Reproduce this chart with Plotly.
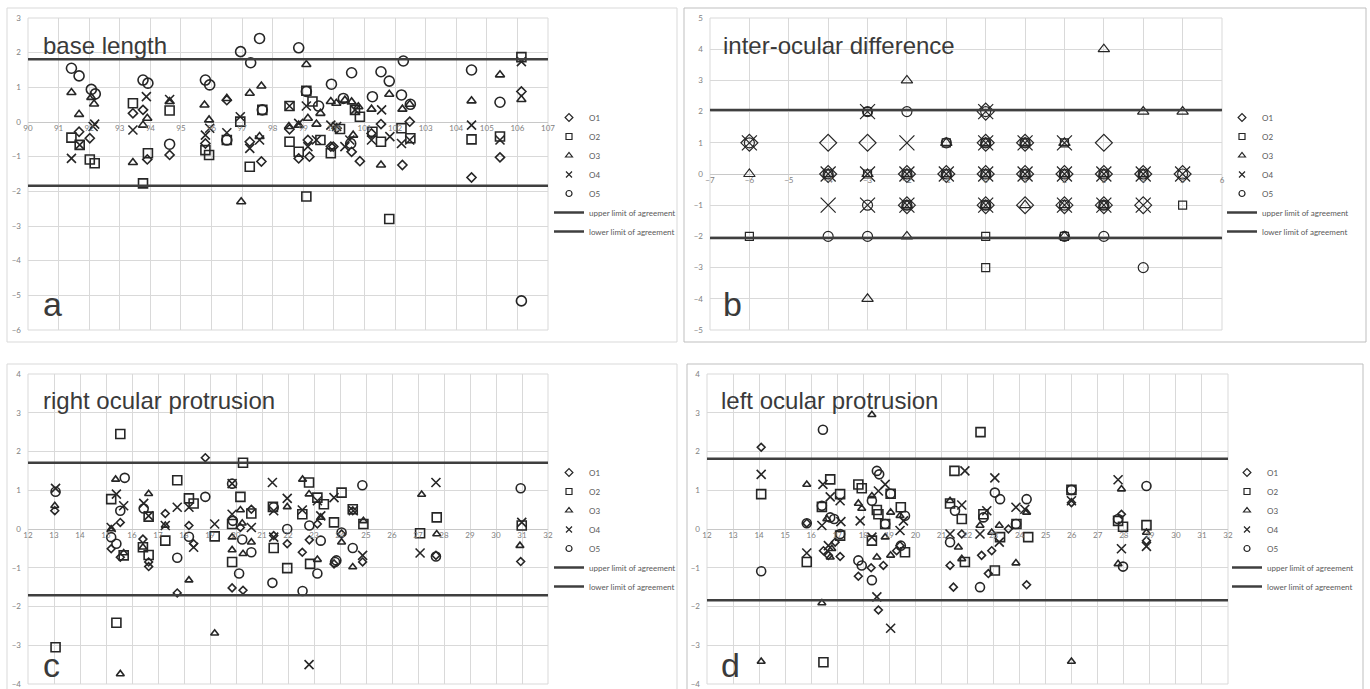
import plotly.graph_objects as go

# ---------------- data ----------------
series_names = ["O1", "O2", "O3", "O4", "O5"]
limit_names = ["upper limit of agreement", "lower limit of agreement"]

# panel a: base length
a_o1_x = [91.67, 92.02, 93.43, 93.76, 93.90, 94.63, 95.80, 96.50, 97.25, 97.63, 98.55, 98.85, 99.15, 99.20, 99.90, 99.98, 100.09, 100.58, 100.85, 101.23, 101.54, 102.24, 102.48, 104.50, 105.43, 106.13]
a_o1_y = [-0.28, -0.47, 0.25, 0.35, -1.08, -0.95, -0.62, 0.63, -0.57, -1.14, -0.21, -1.05, -0.52, -1.00, -0.71, -0.71, -0.18, -0.86, -1.13, -0.33, -0.06, -1.24, 0.01, -1.60, -1.02, 0.88]
a_o2_x = [91.42, 91.69, 92.02, 92.18, 93.43, 93.76, 93.92, 94.63, 95.80, 95.92, 96.50, 96.94, 97.25, 97.66, 98.55, 98.55, 98.85, 99.10, 99.10, 99.30, 99.56, 99.90, 100.20, 100.69, 100.85, 101.26, 101.54, 101.81, 102.21, 102.50, 104.50, 105.43, 106.13]
a_o2_y = [-0.45, -0.66, -1.08, -1.19, 0.54, -1.77, -0.90, 0.33, -0.81, -0.95, -0.52, 0.01, -1.29, 0.35, 0.46, -0.57, -0.86, -2.15, 0.90, 0.59, -0.52, -0.90, -0.20, 0.35, 0.15, -0.28, -0.57, -2.80, -0.18, -0.47, -0.50, -0.42, 1.87]
a_o3_x = [91.42, 91.67, 92.07, 92.16, 93.43, 93.76, 93.90, 94.63, 95.77, 95.92, 96.50, 96.97, 97.25, 97.63, 97.57, 98.53, 98.85, 99.10, 99.15, 99.43, 99.56, 99.90, 100.08, 100.36, 100.58, 100.63, 100.80, 101.23, 101.81, 102.24, 102.48, 101.54, 104.50, 105.43, 106.13]
a_o3_y = [0.85, 0.22, 0.71, 0.52, -1.17, -0.09, 0.11, 0.59, 0.49, 0.06, 0.68, -2.30, 0.83, 1.04, -0.42, -0.13, -0.09, 1.66, 0.11, -0.06, 0.25, 0.59, 0.54, 0.63, 0.58, -0.38, 0.44, 0.37, 0.80, 0.37, 0.51, -1.24, 0.61, 1.36, 0.65]
a_o4_x = [91.42, 91.69, 92.13, 92.18, 93.43, 93.87, 94.63, 95.80, 95.94, 96.50, 96.94, 97.25, 97.57, 98.55, 98.85, 99.10, 99.15, 99.43, 99.90, 100.09, 100.36, 100.52, 100.69, 101.56, 101.23, 101.83, 102.21, 102.48, 104.50, 105.43, 106.13]
a_o4_y = [-1.05, -0.66, -0.13, -0.06, -0.23, 0.73, 0.65, -0.38, -0.18, -0.31, 0.15, -0.76, -0.52, 0.46, -0.04, 0.46, -0.71, -0.52, -0.09, -0.13, -0.71, -0.52, 0.35, 0.35, -0.52, -0.42, -0.62, -0.52, -0.09, -0.52, 1.74]
a_o5_x = [91.42, 91.67, 92.07, 92.20, 93.76, 93.92, 94.63, 95.80, 95.94, 96.95, 97.28, 97.57, 98.85, 99.10, 99.50, 99.92, 100.31, 100.58, 100.55, 101.26, 101.54, 101.81, 102.27, 102.21, 102.50, 104.50, 105.43, 106.13, 96.50, 97.66]
a_o5_y = [1.55, 1.33, 0.94, 0.81, 1.21, 1.12, -0.64, 1.21, 1.07, 2.03, 1.71, 2.41, 2.14, 0.88, 0.46, 1.09, 0.68, 1.42, -0.62, 0.73, 1.45, 1.18, 1.76, 0.78, 0.51, 1.50, 0.57, -5.16, -0.52, 0.35]
a_limits = [1.81, -1.84]

# panel b: inter-ocular difference
b_o1_x = [-6, -4, -4, -3, -2, -2, -1, 0, 0, 0, 0, 1, 1, 1, 2, 2, 3, 3, 3, 4, 4, 5]
b_o1_y = [1, 1, 0, 1, 0, -1, 0, 2, 1, 0, -1, 1, 0, -1, 0, -1, 1, 0, -1, 0, -1, 0]
b_o2_x = [-6, -4, -3, -3, -2, -2, -1, -1, 0, 0, 0, 0, 0, 1, 1, 2, 2, 2, 3, 3, 4, 5]
b_o2_y = [-2, 0, 2, 0, 0, -1, 1, 0, 1, 0, -1, -2, -3, 1, 0, 1, 0, -2, 0, -1, 0, -1]
b_o3_x = [-6, -4, -3, -3, -2, -2, -2, -2, -1, -1, 0, 0, 0, 1, 1, 1, 2, 2, 2, 2, 3, 3, 3, 4, 4, 5]
b_o3_y = [0, 0, 0, -4, 3, 0, -1, -2, 1, 0, 1, 0, -1, 1, 0, -1, 1, 0, -1, -2, 4, 0, -1, 2, 0, 2]
b_o4_x = [-6, -4, -4, -3, -3, -3, -2, -2, -2, -1, 0, 0, 0, 0, 1, 1, 2, 2, 2, 3, 3, 4, 4, 5]
b_o4_y = [1, -1, 0, 2, 0, -1, 1, 0, -1, 0, 2, 1, 0, -1, 1, 0, 1, 0, -1, 0, -1, 0, -1, 0]
b_o5_x = [-6, -4, -4, -3, -3, -3, -2, -2, -2, -1, -1, 0, 0, 0, 0, 1, 1, 2, 2, 2, 3, 3, 3, 4, 4, 5]
b_o5_y = [1, -2, 0, 2, -1, -2, 2, 0, -1, 1, 0, 2, 1, 0, -1, 1, 0, 0, -1, -2, 0, -1, -2, 0, -3, 0]
b_limits = [2.05, -2.05]

# panel c: right ocular protrusion
c_o1_x = [13.03, 15.55, 15.20, 15.55, 16.64, 16.64, 16.42, 17.28, 17.74, 18.19, 18.37, 18.82, 19.85, 20.27, 20.59, 21.45, 21.97, 22.55, 22.82, 23.13, 23.77, 20.17, 24.06, 24.49, 24.87, 27.69, 30.95]
c_o1_y = [0.47, 0.17, -0.51, -0.73, -0.97, -0.85, -0.26, 0.40, -1.65, 0.09, -0.38, 1.84, -1.52, -1.58, 0.51, -0.17, -0.38, -0.60, -0.28, 0.13, -0.90, 0.04, -0.13, 0.47, -0.85, -0.68, -0.84]
c_o2_x = [15.55, 15.40, 13.06, 15.20, 15.68, 16.42, 16.64, 16.64, 17.28, 17.74, 18.19, 18.37, 19.18, 19.85, 19.85, 20.17, 20.27, 20.59, 21.42, 21.45, 21.97, 22.55, 22.81, 22.85, 23.13, 23.38, 23.77, 24.06, 24.49, 24.90, 27.08, 27.72, 30.99]
c_o2_y = [2.45, -2.42, -3.05, 0.77, -0.68, -0.47, 0.32, -0.67, -0.30, 1.26, 0.79, 0.66, -0.19, 0.13, -0.85, 0.83, 1.71, 0.40, 0.57, -0.49, -1.01, 0.38, 1.20, -0.90, 0.81, 0.64, 0.17, 0.94, 0.51, 0.13, -0.11, 0.30, 0.09]
c_o3_x = [13.03, 15.37, 15.20, 15.68, 16.64, 16.42, 17.28, 18.19, 19.18, 15.55, 19.85, 19.85, 20.17, 20.27, 20.59, 21.97, 22.56, 22.81, 23.13, 23.26, 20.24, 24.06, 24.49, 24.90, 27.14, 27.72, 30.92]
c_o3_y = [0.60, 1.28, 0.00, -0.62, 0.91, -0.47, 0.09, -1.32, -2.69, -3.74, -0.21, -0.54, 0.49, -0.64, -0.34, 0.57, 1.28, 0.90, -0.79, 0.30, 0.15, -0.34, -0.98, 0.21, 0.89, -0.13, -0.43]
c_o4_x = [13.06, 15.40, 15.68, 15.20, 16.45, 16.64, 17.28, 17.74, 18.19, 18.37, 19.18, 19.85, 19.85, 20.59, 21.40, 21.45, 21.45, 21.97, 22.55, 22.81, 23.13, 23.26, 23.77, 24.51, 24.87, 27.08, 27.69, 30.99]
c_o4_y = [1.05, 0.90, 0.60, 0.04, 0.66, 0.34, 0.09, 0.56, 0.56, -0.47, 0.13, 1.17, 0.38, 0.04, 1.20, 0.47, -0.21, 0.79, 0.49, -3.50, 0.73, 0.34, 0.81, 0.47, -0.68, -0.62, 1.20, 0.17]
c_o5_x = [13.06, 15.72, 15.55, 15.20, 15.40, 16.45, 17.74, 18.19, 18.82, 19.85, 20.12, 20.24, 20.59, 21.40, 21.45, 21.97, 22.56, 22.82, 23.13, 23.26, 23.86, 19.88, 24.06, 24.49, 23.81, 24.86, 27.69, 30.95]
c_o5_y = [0.96, 1.32, 0.47, -0.21, -0.38, 0.53, -0.74, -0.20, 0.83, 1.17, -1.15, -0.27, -0.60, -1.39, 0.56, 0.00, -1.60, 0.09, -1.15, -0.30, -0.81, 0.21, -0.09, -0.49, -0.85, 1.13, -0.71, 1.05]
c_limits = [1.71, -1.71]

# panel d: left ocular protrusion
d_o1_x = [14.08, 15.83, 16.47, 16.66, 17.11, 17.81, 18.30, 18.58, 18.77, 19.28, 19.41, 16.92, 21.46, 21.33, 21.78, 22.54, 22.93, 22.80, 23.57, 24.27, 25.99, 27.91, 28.87]
d_o1_y = [2.11, 0.15, -0.56, -0.68, -0.71, -1.22, -1.00, -2.09, -0.94, -0.56, -0.43, -0.34, -1.50, -0.94, -0.13, -0.68, -0.56, -1.15, 0.00, -1.44, 0.68, 0.38, -0.30]
d_o2_x = [14.08, 15.83, 16.47, 16.41, 16.73, 17.11, 17.11, 17.81, 17.94, 18.52, 18.58, 18.84, 19.05, 19.44, 19.60, 18.33, 21.50, 21.33, 21.78, 21.90, 22.50, 22.61, 23.05, 23.25, 23.88, 24.33, 25.99, 27.78, 27.97, 28.87]
d_o2_y = [0.90, -0.85, -3.44, 0.57, 1.28, 0.90, -0.17, 1.15, 1.05, 0.49, 0.38, 0.13, 0.91, 0.56, -0.60, -0.30, 1.50, 0.66, 0.26, -0.85, 2.50, 0.38, -1.07, -0.21, 0.13, -0.21, 1.01, 0.21, 0.06, 0.10]
d_o3_x = [14.08, 15.83, 16.41, 16.60, 16.73, 16.79, 17.81, 17.94, 18.33, 18.33, 18.52, 18.84, 19.05, 19.05, 19.41, 21.33, 21.65, 21.78, 22.48, 22.93, 23.22, 23.86, 24.27, 25.99, 27.91, 28.87, 27.78]
d_o3_y = [-3.42, 1.15, -1.91, 0.26, -0.73, -0.51, 0.66, 0.53, 0.85, 2.95, -0.73, -0.21, 0.43, -0.68, 0.34, 0.73, -0.47, -0.77, 0.09, -0.09, 0.09, -0.88, 0.43, -3.42, 1.03, -0.09, -0.90]
d_o4_x = [14.08, 15.83, 16.45, 16.41, 16.73, 17.11, 17.14, 16.66, 17.88, 18.33, 18.58, 18.84, 18.52, 19.05, 19.41, 19.54, 21.33, 21.90, 21.78, 23.05, 22.48, 22.74, 23.22, 23.86, 24.20, 25.99, 27.78, 27.91, 28.87]
d_o4_y = [1.41, -0.62, 1.15, 0.09, 0.83, 0.73, 0.19, -0.43, 0.21, -0.21, 0.98, 1.15, -1.75, -2.56, -0.04, 0.21, -0.13, 1.50, 0.62, 1.32, -0.13, 0.47, -0.34, 0.56, 0.51, 0.73, 1.27, -0.51, -0.45]
d_o5_x = [14.08, 15.83, 16.45, 16.41, 16.73, 16.88, 17.11, 17.81, 17.94, 18.33, 18.52, 18.61, 18.33, 18.84, 19.05, 19.44, 19.60, 21.33, 21.52, 22.48, 22.61, 23.05, 23.25, 23.86, 24.27, 25.99, 27.78, 27.97, 28.87]
d_o5_y = [-1.09, 0.15, 2.56, 0.60, 0.30, 0.26, -0.13, -0.81, -0.94, -1.32, 1.50, 1.41, 0.73, 0.13, 0.91, -0.43, 0.34, -0.34, 0.47, -1.50, 0.30, 0.94, 0.77, 0.13, 0.77, 1.01, 0.26, -0.97, 1.11]
d_limits = [1.81, -1.84]

panel_titles = ["base length", "inter-ocular difference", "right ocular protrusion", "left ocular protrusion"]
panel_letters = ["a", "b", "c", "d"]
x_ranges = [[90, 107], [-7, 6], [12, 32], [12, 32]]
y_ranges = [[-6, 3], [-5, 5], [-4, 4], [-4, 4]]

# ---------------- layout helpers ----------------
W, H = 1370, 689
def px(xp):
    return xp / W
def py(yp):
    return 1 - yp / H

panels = [
    dict(series=[(a_o1_x, a_o1_y), (a_o2_x, a_o2_y), (a_o3_x, a_o3_y), (a_o4_x, a_o4_y), (a_o5_x, a_o5_y)],
         limits=a_limits, xd=[px(28), px(548)], yd=[py(330), py(18)],
         sizes=[7, 9, 8, 9, 10], lw=1.6,
         title_xy=(41, 30), letter_xy=(41, 325), legend_xy=(549, 103), frame=(7, 8, 677, 342, "#d9d9d9")),
    dict(series=[(b_o1_x, b_o1_y), (b_o2_x, b_o2_y), (b_o3_x, b_o3_y), (b_o4_x, b_o4_y), (b_o5_x, b_o5_y)],
         limits=b_limits, xd=[px(710), px(1222)], yd=[py(330), py(18)],
         sizes=[13, 8, 10, 15, 10], lw=1.2,
         title_xy=(721, 30), letter_xy=(721, 325), legend_xy=(1222, 103), frame=(684, 8, 1366, 342, "#bfbfbf")),
    dict(series=[(c_o1_x, c_o1_y), (c_o2_x, c_o2_y), (c_o3_x, c_o3_y), (c_o4_x, c_o4_y), (c_o5_x, c_o5_y)],
         limits=c_limits, xd=[px(28), px(548)], yd=[py(684), py(374)],
         sizes=[6, 9, 7, 9, 9], lw=1.6,
         title_xy=(41, 385), letter_xy=(41, 686), legend_xy=(549, 458), frame=(7, 364, 677, 700, "#d9d9d9")),
    dict(series=[(d_o1_x, d_o1_y), (d_o2_x, d_o2_y), (d_o3_x, d_o3_y), (d_o4_x, d_o4_y), (d_o5_x, d_o5_y)],
         limits=d_limits, xd=[px(707), px(1228)], yd=[py(684), py(374)],
         sizes=[6, 9, 7, 9, 9], lw=1.6,
         title_xy=(719, 385), letter_xy=(719, 686), legend_xy=(1227, 458), frame=(687, 364, 1363, 700, "#bfbfbf")),
]

symbols = ["diamond-open", "square-open", "triangle-up-open", "x-thin-open", "circle-open"]
legend_sizes = [6, 6, 6, 6, 6]
mark_color = "#262626"
grid_color = "#d9d9d9"
tick_font = dict(family="Lato, Liberation Sans, sans-serif", size=8, color="#7f7f7f")

fig = go.Figure()
layout = dict(width=W, height=H, margin=dict(l=0, r=0, t=0, b=0, autoexpand=False),
              paper_bgcolor="white", plot_bgcolor="white", showlegend=True)
shapes, annotations = [], []

for i, p in enumerate(panels):
    n = i + 1
    sfx = "" if n == 1 else str(n)
    xa, ya = "x" + sfx, "y" + sfx
    leg = "legend" + sfx
    xr, yr = x_ranges[i], y_ranges[i]
    for k, (sx, sy) in enumerate(p["series"]):
        fig.add_trace(go.Scatter(
            x=sx, y=sy, mode="markers", name=series_names[k], xaxis=xa, yaxis=ya, legend=leg,
            showlegend=False, legendgroup=leg + series_names[k],
            marker=dict(symbol=symbols[k], size=p["sizes"][k], color=mark_color,
                        line=dict(width=p["lw"], color=mark_color))))
        # legend entry with a small symbol, like the original
        fig.add_trace(go.Scatter(
            x=[None], y=[None], mode="markers", name=series_names[k], xaxis=xa, yaxis=ya, legend=leg,
            legendgroup=leg + series_names[k],
            marker=dict(symbol=symbols[k], size=legend_sizes[k], color=mark_color,
                        line=dict(width=1.2, color=mark_color))))
    for k, lv in enumerate(p["limits"]):
        fig.add_trace(go.Scatter(
            x=xr, y=[lv, lv], mode="lines", name=limit_names[k], xaxis=xa, yaxis=ya, legend=leg,
            line=dict(color="#3f3f3f", width=2.5)))
    # axes
    y0 = p["yd"][0] + (0 - yr[0]) / (yr[1] - yr[0]) * (p["yd"][1] - p["yd"][0])
    layout["xaxis" + sfx] = dict(domain=p["xd"], range=xr, dtick=1, tick0=0, anchor="free", position=y0,
                                 showgrid=True, gridcolor=grid_color, gridwidth=1, zeroline=False,
                                 showline=False, ticks="", tickfont=tick_font, fixedrange=True,
                                 automargin=False)
    layout["yaxis" + sfx] = dict(domain=p["yd"], range=yr, dtick=1, tick0=0, anchor=xa,
                                 showgrid=True, gridcolor=grid_color, gridwidth=1, zeroline=True,
                                 zerolinecolor="#c8c8c8", zerolinewidth=1, showline=False, ticks="",
                                 tickfont=tick_font, ticklabelstandoff=6, fixedrange=True,
                                 automargin=False)
    layout[leg] = dict(x=px(p["legend_xy"][0]), y=py(p["legend_xy"][1]), xanchor="left", yanchor="top",
                       bgcolor="rgba(0,0,0,0)", font=dict(family="Lato, Liberation Sans, sans-serif",
                                                          size=8, color="#595959"),
                       tracegroupgap=0, itemwidth=30, itemsizing="trace")
    # plot-area border (same colour as gridlines)
    shapes.append(dict(type="rect", xref=xa + " domain", yref=ya + " domain", x0=0, x1=1, y0=0, y1=1,
                       line=dict(color=grid_color, width=1), layer="below"))
    # outer chart frame
    fx0, fy0, fx1, fy1, fc = p["frame"]
    shapes.append(dict(type="rect", xref="paper", yref="paper", x0=px(fx0), x1=px(fx1), y0=py(fy1), y1=py(fy0),
                       line=dict(color=fc, width=1)))
    tx, ty = p["title_xy"]
    annotations.append(dict(text=panel_titles[i], xref="paper", yref="paper", x=px(tx), y=py(ty),
                            xanchor="left", yanchor="top", showarrow=False,
                            font=dict(family="Liberation Sans, Arial, sans-serif", size=24, color="#3a3a3a")))
    lx, ly = p["letter_xy"]
    annotations.append(dict(text=panel_letters[i], xref="paper", yref="paper", x=px(lx), y=py(ly),
                            xanchor="left", yanchor="bottom", showarrow=False,
                            font=dict(family="Liberation Sans, Arial, sans-serif", size=34, color="#3a3a3a")))

layout["shapes"] = shapes
layout["annotations"] = annotations
fig.update_layout(**layout)
fig.write_html("out.html", config={"displayModeBar": False},
               post_script="document.body.style.margin='0px';document.body.style.overflow='hidden';")
